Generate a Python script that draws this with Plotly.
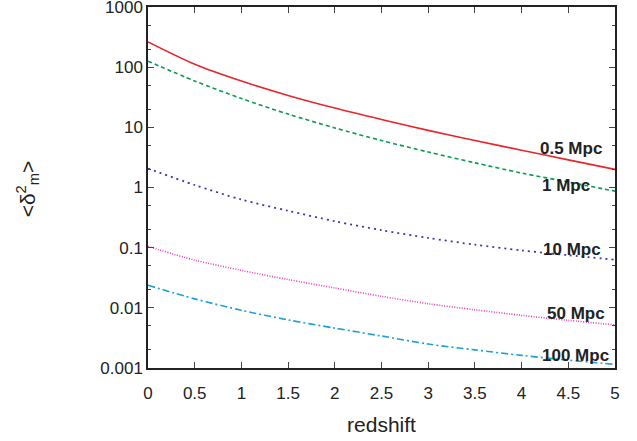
import plotly.graph_objects as go

redshift = [0, 0.5, 1, 1.5, 2, 2.5, 3, 3.5, 4, 4.5, 5]

var_05mpc = [263, 112, 58.9, 33.9, 20.9, 13.5, 8.91, 6.03, 4.17, 2.88, 2.0]
var_1mpc = [126, 58.9, 30.2, 16.6, 9.77, 6.03, 3.89, 2.57, 1.74, 1.23, 0.87]
var_10mpc = [2.07, 1.10, 0.63, 0.41, 0.275, 0.195, 0.145, 0.112, 0.090, 0.075, 0.063]
var_50mpc = [0.105, 0.062, 0.042, 0.0295, 0.0214, 0.0155, 0.0117, 0.0093, 0.0075, 0.0062, 0.0052]
var_100mpc = [0.0237, 0.0141, 0.0091, 0.0063, 0.0046, 0.0034, 0.0025, 0.0020, 0.00162, 0.00135, 0.00115]

series_labels = ["0.5 Mpc", "1 Mpc", "10 Mpc", "50 Mpc", "100 Mpc"]
series_values = [var_05mpc, var_1mpc, var_10mpc, var_50mpc, var_100mpc]

x_tick_vals = [0, 0.5, 1, 1.5, 2, 2.5, 3, 3.5, 4, 4.5, 5]
x_tick_text = ["0", "0.5", "1", "1.5", "2", "2.5", "3", "3.5", "4", "4.5", "5"]
y_tick_vals = [0.001, 0.01, 0.1, 1, 10, 100, 1000]
y_tick_text = ["0.001", "0.01", "0.1", "1", "10", "100", "1000"]
y_minor_vals = [m * 10 ** e for e in range(-3, 3) for m in (2, 5)]

colors = ["#e8262a", "#0a9a50", "#3c3ca8", "#f03cb8", "#1ea0d6"]
dashes = ["solid", "4px,3px", "2px,4px", "1px,1.5px", "7px,3px,2px,3px"]
widths = [1.6, 1.6, 1.8, 1.6, 1.6]

# label anchor positions (x in redshift, y in log10)
label_pos = [(4.53, 0.654), (4.475, 0.038), (4.54, -1.027), (4.58, -2.09), (4.58, -2.79)]

fig = go.Figure()
for name, vals, c, d, w in zip(series_labels, series_values, colors, dashes, widths):
    fig.add_trace(go.Scatter(x=redshift, y=vals, mode="lines", name=name,
                             line=dict(color=c, dash=d, width=w, shape="spline", smoothing=0.8),
                             showlegend=False, hoverinfo="skip"))

for name, (lx, ly) in zip(series_labels, label_pos):
    fig.add_annotation(x=lx, y=ly, xref="x", yref="y", text=f"<b>{name}</b>",
                       showarrow=False, font=dict(family="Liberation Sans", size=17, color="#222"))

fig.add_annotation(xref="paper", yref="paper", x=-0.259, y=0.495, textangle=-90,
                   xanchor="center", yanchor="middle",
                   text="&lt;δ<sup>2</sup><sub>m</sub>&gt;", showarrow=False,
                   font=dict(family="Liberation Sans", size=21, color="#222"))

axis_common = dict(showline=True, linecolor="#222", linewidth=1.5, mirror="ticks",
                   ticks="inside", ticklen=6, tickwidth=1, tickcolor="#444",
                   showgrid=False, zeroline=False, ticklabeloverflow="allow",
                   tickfont=dict(family="Liberation Sans", size=17, color="#222"))

fig.update_xaxes(range=[0, 5], tickmode="array", tickvals=x_tick_vals, ticktext=x_tick_text,
                 ticklabelstandoff=9,
                 title=dict(text="redshift", font=dict(family="Liberation Sans", size=21, color="#222"),
                            standoff=15),
                 **axis_common)
fig.update_yaxes(type="log", range=[-3, 3], tickmode="array", tickvals=y_tick_vals, ticktext=y_tick_text,
                 minor=dict(ticks="inside", ticklen=3, tickcolor="#444", tickmode="array", tickvals=y_minor_vals),
                 **axis_common)

fig.update_layout(width=637, height=441, margin=dict(l=148, r=22, t=7, b=73, autoexpand=False),
                  plot_bgcolor="white", paper_bgcolor="white")

fig.write_html("out.html", config={"displayModeBar": False},
               post_script="document.body.style.margin='0';")
